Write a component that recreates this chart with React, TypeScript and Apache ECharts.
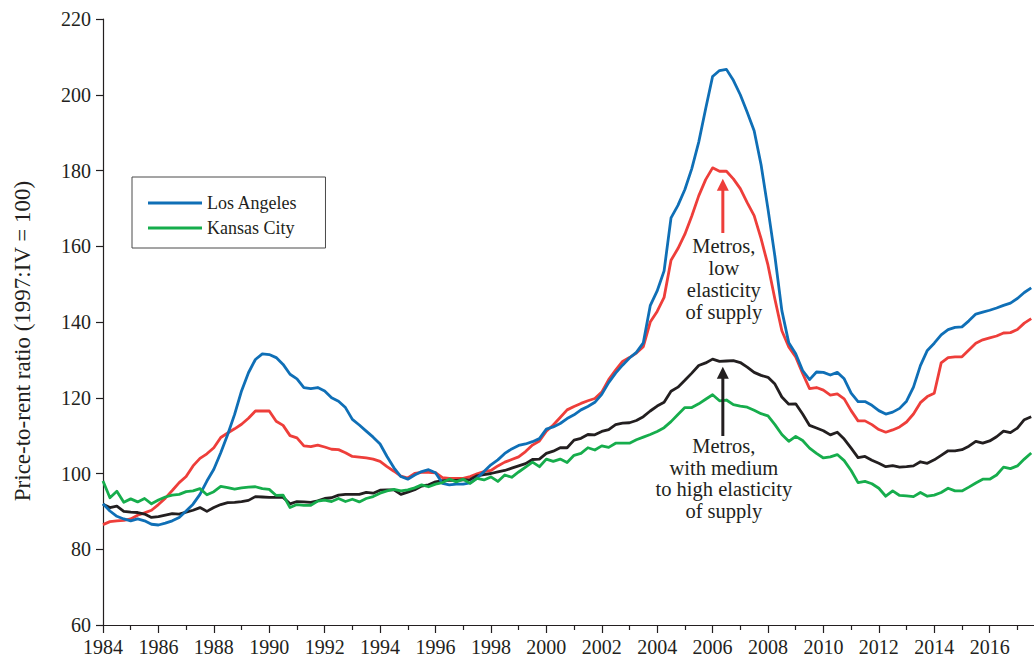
import React, { useEffect, useRef } from "react";
import * as echarts from "echarts";

// Quarterly data, 1984:Q1 .. 2017:Q3
const START_YEAR = 1984;
const STEP = 0.25;

const losAngeles = [
  92.0, 90.1, 88.7, 88.0, 87.5, 88.0, 87.5, 86.6, 86.4, 86.9,
  87.5, 88.4, 90.1, 91.9, 94.5, 98.0, 101.1, 105.5, 110.3, 115.6,
  121.8, 126.6, 130.1, 131.6, 131.4, 130.6, 128.8, 126.2, 125.0, 122.7,
  122.4, 122.7, 121.8, 120.0, 119.1, 117.4, 114.3, 112.8, 111.2, 109.6,
  107.8, 104.5, 101.5, 99.2, 98.5, 99.6, 100.5, 101.0, 100.2, 97.4,
  97.0, 97.2, 97.2, 97.5, 98.8, 100.5, 102.3, 103.6, 105.3, 106.5,
  107.4, 107.8, 108.4, 109.2, 111.7, 112.3, 113.2, 114.5, 115.5, 116.8,
  117.7, 118.8, 120.9, 124.0, 126.5, 128.6, 130.5, 132.0, 134.5, 144.3,
  148.2, 153.5, 167.5, 170.8, 175.0, 180.5, 187.5, 196.3, 204.8, 206.4,
  206.7, 203.8, 200.0, 195.4, 190.5, 181.5, 169.8, 157.3, 143.0, 134.5,
  131.6, 127.2, 124.8, 126.8, 126.7, 126.0, 126.7, 125.0, 121.2, 119.0,
  119.0, 118.0, 116.6, 115.7, 116.2, 117.2, 119.1, 122.8, 128.5, 132.5,
  134.4, 136.6, 138.0, 138.6, 138.7, 140.3, 142.1, 142.6, 143.1, 143.7,
  144.4, 145.0, 146.2, 147.8, 149.0,
];

const lowElasticity = [
  86.5, 87.3, 87.5, 87.6, 88.0, 89.0, 89.6, 90.3, 91.8, 93.5,
  95.5, 97.6, 99.2, 102.0, 104.0, 105.2, 106.8, 109.5, 110.7, 111.8,
  113.0, 114.6, 116.5, 116.5, 116.5, 113.8, 112.7, 110.0, 109.4, 107.3,
  107.1, 107.5, 107.0, 106.4, 106.3, 105.5, 104.5, 104.3, 104.1, 103.8,
  103.2, 101.8, 100.6, 99.3, 98.8, 100.0, 100.3, 100.3, 100.2, 98.9,
  98.7, 98.7, 98.7, 99.2, 99.9, 100.5, 100.8, 102.0, 103.0, 103.7,
  104.4, 105.8, 107.5, 108.6, 111.2, 112.8, 114.8, 116.8, 117.7, 118.5,
  119.2, 119.8, 121.5, 124.8, 127.3, 129.6, 130.6, 131.8, 133.5, 140.0,
  142.8, 146.5, 156.3, 159.4, 163.2, 168.0, 173.3, 177.6, 180.7, 179.8,
  179.8, 177.8, 175.2, 171.5, 168.1, 162.0, 155.0, 146.0, 137.7, 133.4,
  130.8, 126.4, 122.4, 122.7, 122.0, 120.7, 121.0, 119.7, 116.6, 113.9,
  113.9, 112.9, 111.6, 110.9, 111.5, 112.3, 113.6, 115.7, 118.7, 120.3,
  121.2, 129.2, 130.6, 130.8, 130.8, 132.6, 134.4, 135.3, 135.8, 136.3,
  137.1, 137.2, 138.0, 139.7, 140.9,
];

const mediumHighElasticity = [
  91.9, 91.0, 91.4, 90.0, 89.8, 89.7, 89.3, 88.4, 88.6, 89.0,
  89.4, 89.3, 89.8, 90.3, 91.0, 90.0, 91.0, 91.8, 92.3, 92.4,
  92.6, 92.9, 93.9, 93.8, 93.7, 93.7, 93.7, 92.0, 92.6, 92.5,
  92.4, 92.8, 93.4, 93.6, 94.3, 94.5, 94.5, 94.5, 95.0, 94.8,
  95.6, 95.7, 95.7, 94.5, 95.1, 95.7, 96.7, 97.0, 97.8, 98.1,
  98.2, 98.2, 98.3, 98.4, 99.4, 99.7, 100.0, 100.4, 100.8, 101.4,
  102.0, 102.6, 103.7, 103.8, 105.3, 105.9, 106.8, 106.8, 108.8, 109.3,
  110.3, 110.2, 111.1, 111.6, 112.9, 113.3, 113.4, 114.0, 115.0, 116.5,
  117.8, 118.8, 121.7, 122.8, 124.6, 126.5, 128.5, 129.2, 130.2, 129.6,
  129.7, 129.8, 129.3, 128.1, 126.7, 125.9, 125.4, 123.6, 120.2, 118.3,
  118.4, 115.7, 112.7, 112.0, 111.3, 110.2, 110.9, 109.1, 106.7, 104.2,
  104.5, 103.5, 102.7, 101.8, 102.1, 101.7, 101.8, 102.0, 103.1, 102.7,
  103.6, 104.8, 106.0, 106.0, 106.3, 107.2, 108.5, 108.0, 108.6, 109.7,
  111.2, 110.8, 112.0, 114.2, 115.0,
];

const kansasCity = [
  98.0, 93.6, 95.3, 92.4, 93.3, 92.5, 93.4, 92.0, 93.0, 93.8,
  94.3, 94.5, 95.2, 95.4, 96.0, 94.4, 95.2, 96.6, 96.3, 95.9,
  96.2, 96.4, 96.5, 96.0, 95.8, 94.2, 94.3, 91.0, 91.8, 91.6,
  91.6, 92.7, 93.0, 92.6, 93.4, 92.6, 93.2, 92.5, 93.4, 93.9,
  94.8, 95.4, 95.8, 95.4, 95.7, 96.2, 97.0, 96.5, 97.2, 97.6,
  98.5, 97.8, 98.5, 97.4, 98.7, 98.3, 99.1, 97.9, 99.6, 99.0,
  100.4, 101.7, 103.0, 101.8, 103.8, 103.2, 103.8, 102.9, 104.8, 105.3,
  106.8, 106.2, 107.3, 106.9, 108.0, 108.0, 108.0, 108.9, 109.6, 110.3,
  111.1, 112.1, 113.7, 115.6, 117.4, 117.4, 118.4, 119.6, 120.8, 119.2,
  119.4, 118.2, 117.8, 117.5, 116.7, 115.8, 115.2, 112.9, 110.3, 108.5,
  109.8, 108.7, 106.7, 105.3, 104.1, 104.4, 105.0, 103.4, 100.8, 97.6,
  97.9, 97.3, 96.1, 94.0, 95.4, 94.2, 94.1, 93.9, 95.0, 94.0,
  94.3, 95.0, 96.1, 95.4, 95.4, 96.4, 97.5, 98.5, 98.5, 99.6,
  101.7, 101.3, 102.0, 103.8, 105.4,
];

const majorYears = [1984, 1986, 1988, 1990, 1992, 1994, 1996, 1998, 2000, 2002, 2004, 2006, 2008, 2010, 2012, 2014, 2016];
const minorYears = [1985, 1987, 1989, 1991, 1993, 1995, 1997, 1999, 2001, 2003, 2005, 2007, 2009, 2011, 2013, 2015, 2017];

const X_MIN = 1984;
const X_MAX = 2017.6;
const Y_MIN = 60;
const Y_MAX = 220;
const Y_STEP = 20;

const Y_TITLE = "Price-to-rent ratio (1997:IV = 100)";
const LOW_LABEL = ["Metros,", "low", "elasticity", "of supply"];
const MED_LABEL = ["Metros,", "with medium", "to high elasticity", "of supply"];
// annotation anchors in data space: [arrow base, arrow tip, first text line centre]
const ANNOT_YEAR = 2006.37;
const LOW_ARROW = [163.5, 177.8, 160.0];
const MED_ARROW = [109.9, 128.2, 107.3];

const C_BLUE = "#0f6fb6";
const C_RED = "#ee3e3a";
const C_GREEN = "#16ad4c";
const C_BLACK = "#231f20";
const FONT = "'Liberation Serif', 'Times New Roman', serif";

const toPairs = (arr: number[]) => arr.map((v, i) => [START_YEAR + i * STEP, v]);

export default function App() {
  const ref = useRef<HTMLDivElement>(null);

  useEffect(() => {
    if (!ref.current) return;
    const chart = echarts.init(ref.current, undefined, { renderer: "svg" });

    const lineSeries = (name: string, data: number[], color: string) => ({
      name,
      type: "line",
      data: toPairs(data),
      showSymbol: false,
      symbol: "none",
      color,
      lineStyle: { color, width: 2.8, join: "round" },
      xAxisIndex: 0,
      yAxisIndex: 0,
    });

    chart.setOption({
      animation: false,
      backgroundColor: "#ffffff",
      textStyle: { fontFamily: FONT, color: C_BLACK },
      grid: { left: 103, right: 0, top: 19, bottom: 34, containLabel: false },
      legend: {
        data: ["Los Angeles", "Kansas City"],
        orient: "vertical",
        left: 132,
        top: 177,
        padding: [17, 28, 11, 16],
        itemWidth: 54,
        itemHeight: 3,
        itemGap: 7,
        icon: "rect",
        selectedMode: false,
        borderColor: "#4a4a4a",
        borderWidth: 1,
        textStyle: { fontFamily: FONT, fontSize: 18, color: C_BLACK },
      },
      xAxis: [
        {
          type: "value",
          min: X_MIN,
          max: X_MAX,
          position: "bottom",
          axisLine: { show: true, lineStyle: { color: C_BLACK, width: 1.2 } },
          axisTick: { show: true, customValues: majorYears, length: 8, lineStyle: { color: C_BLACK, width: 1.2 } },
          axisLabel: {
            customValues: majorYears,
            fontFamily: FONT,
            fontSize: 20,
            color: C_BLACK,
            margin: 12,
            formatter: (v: number) => String(v),
          },
          splitLine: { show: false },
        },
        {
          type: "value",
          min: X_MIN,
          max: X_MAX,
          position: "bottom",
          axisLine: { show: false },
          axisTick: { show: true, customValues: minorYears, length: 5, lineStyle: { color: C_BLACK, width: 1.2 } },
          axisLabel: { show: false },
          splitLine: { show: false },
        },
      ],
      yAxis: {
        type: "value",
        min: Y_MIN,
        max: Y_MAX,
        interval: Y_STEP,
        axisLine: { show: true, lineStyle: { color: C_BLACK, width: 1.2 } },
        axisTick: { show: true, length: 7, lineStyle: { color: C_BLACK, width: 1.2 } },
        axisLabel: { fontFamily: FONT, fontSize: 20, color: C_BLACK, margin: 12 },
        splitLine: { show: false },
      },
      series: [
        lineSeries("Low elasticity metros", lowElasticity, C_RED),
        lineSeries("Medium to high elasticity metros", mediumHighElasticity, C_BLACK),
        lineSeries("Los Angeles", losAngeles, C_BLUE),
        lineSeries("Kansas City", kansasCity, C_GREEN),
      ],
    });

    const px = (year: number, v: number) => chart.convertToPixel({ gridIndex: 0 }, [year, v]) as number[];

    const arrow = (base: number, tip: number, color: string) => {
      const b = px(ANNOT_YEAR, base);
      const t = px(ANNOT_YEAR, tip);
      return [
        {
          type: "line",
          shape: { x1: b[0], y1: b[1], x2: t[0], y2: t[1] + 8 },
          style: { stroke: color, lineWidth: 3 },
          z: 100,
        },
        {
          type: "polygon",
          shape: { points: [[t[0], t[1]], [t[0] - 6, t[1] + 12], [t[0] + 6, t[1] + 12]] },
          style: { fill: color },
          z: 100,
        },
      ];
    };

    const LINE_GAP = 21.8;
    const label = (lines: string[], firstCentre: number) => {
      const p = px(ANNOT_YEAR, firstCentre);
      return lines.map((line, k) => ({
        type: "text",
        x: p[0] + 1,
        y: p[1] + k * LINE_GAP,
        z: 100,
        style: {
          text: line,
          fontFamily: FONT,
          fontSize: 20.5,
          fill: C_BLACK,
          align: "center",
          verticalAlign: "middle",
        },
      }));
    };

    chart.setOption({
      graphic: [
        {
          type: "text",
          x: 22,
          y: 341,
          rotation: Math.PI / 2,
          style: {
            text: Y_TITLE,
            fontFamily: FONT,
            fontSize: 23,
            fill: C_BLACK,
            align: "center",
            verticalAlign: "middle",
          },
        },
        ...arrow(LOW_ARROW[0], LOW_ARROW[1], C_RED),
        ...arrow(MED_ARROW[0], MED_ARROW[1], C_BLACK),
        ...label(LOW_LABEL, LOW_ARROW[2]),
        ...label(MED_LABEL, MED_ARROW[2]),
      ],
    });

    return () => chart.dispose();
  }, []);

  return (
    <div
      ref={ref}
      style={{ position: "absolute", left: 0, top: 0, width: 1034, height: 659, background: "#fff" }}
    />
  );
}
